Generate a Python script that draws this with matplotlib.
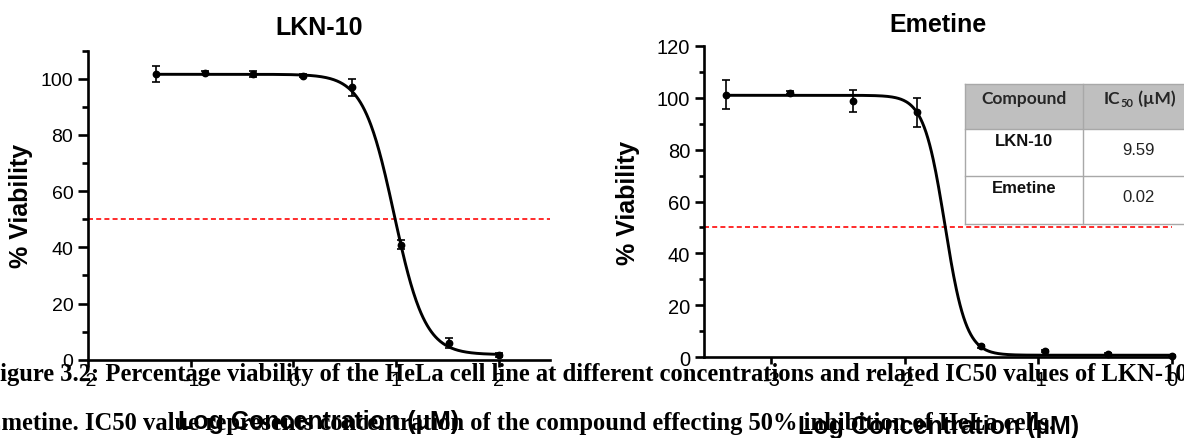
import numpy as np
import matplotlib
matplotlib.use("Agg")
import matplotlib.pyplot as plt
from matplotlib.patches import Rectangle
from matplotlib.ticker import MultipleLocator

plt.rcParams["font.family"] = ["Liberation Sans", "DejaVu Sans"]
plt.rcParams["axes.unicode_minus"] = False
plt.rcParams["lines.scale_dashes"] = False

# ---- dose-response data (log10 concentration in µM, % viability, SEM) ----
lkn_log_conc = [-1.34, -0.86, -0.39, 0.09, 0.57, 1.05, 1.52, 2.00]
lkn_viability = [101.7, 102.1, 101.6, 101.1, 96.9, 41.0, 5.9, 1.7]
lkn_sem = [2.7, 0.5, 1.0, 0.5, 3.2, 1.5, 1.8, 0.6]

emetine_log_conc = [-3.34, -2.86, -2.39, -1.91, -1.43, -0.95, -0.48, 0.00]
emetine_viability = [101.1, 101.9, 98.7, 94.3, 4.2, 2.5, 1.3, 0.6]
emetine_sem = [5.6, 0.6, 4.2, 5.5, 0.6, 0.5, 0.4, 0.4]

# ---- IC50 summary ----
compounds = ["LKN-10", "Emetine"]
ic50_uM = [9.59, 0.02]
ic50_labels = ["9.59", "0.02"]

# four-parameter logistic fit parameters (top, bottom, Hill slope)
lkn_fit = (101.6, 1.8, 2.9)
emetine_fit = (100.9, 0.8, 5.5)

x_ticks_lkn = [-2, -1, 0, 1, 2]
x_ticks_emetine = [-3, -2, -1, 0]

caption_line1 = ("Figure 3.2: Percentage viability of the HeLa cell line at different "
                 "concentrations and related IC50 values of LKN-10 and")
caption_line2 = ("Emetine. IC50 value represents concentration of the compound "
                 "effecting 50% inhibition of HeLa cells.")


def four_pl(x, top, bottom, hill, ic50):
    return bottom + (top - bottom) / (1.0 + 10.0 ** ((x - np.log10(ic50)) * hill))


W, H = 1184, 439
fig = plt.figure(figsize=(W / 100, H / 100), dpi=100)
fig.patch.set_facecolor("white")


def px_axes(left, top, right, bottom):
    return fig.add_axes([left / W, 1 - bottom / H, (right - left) / W, (bottom - top) / H])


def draw_panel(ax, title, logc, via, sem, fit, ic50, xlim, xticks, ymax,
               tick_size, ytick_len, ytick_pad, title_y, ylabel_x, xlabel_y):
    top, bottom, hill = fit
    xs = np.linspace(logc[0], logc[-1], 500)
    ax.plot(xs, four_pl(xs, top, bottom, hill, ic50), color="black", lw=2.1,
            clip_on=False, zorder=3)
    ax.errorbar(logc, via, yerr=sem, fmt="o", color="black", ms=4.6,
                elinewidth=1.2, capsize=2.6, capthick=1.2, clip_on=False, zorder=4)
    ax.axhline(50, color="#FF1A1A", lw=1.3, dashes=(3.6, 2.3), zorder=2)

    ax.set_xlim(*xlim)
    ax.set_ylim(0, ymax)
    ax.set_xticks(xticks)
    ax.yaxis.set_major_locator(MultipleLocator(20))
    ax.yaxis.set_minor_locator(MultipleLocator(10))

    for side in ("top", "right"):
        ax.spines[side].set_visible(False)
    for side in ("left", "bottom"):
        ax.spines[side].set_linewidth(1.9)

    ax.tick_params(axis="x", which="major", length=5.2, width=1.9,
                   labelsize=tick_size, pad=3.6)
    ax.tick_params(axis="y", which="major", length=ytick_len, width=1.9,
                   labelsize=tick_size, pad=ytick_pad)
    ax.tick_params(axis="y", which="minor", length=ytick_len * 0.58, width=1.9)

    ax.set_title(title, fontsize=18, fontweight="bold", y=title_y, pad=0)
    ax.set_ylabel("% Viability", fontsize=18, fontweight="bold")
    ax.yaxis.set_label_coords(ylabel_x, 0.5)
    ax.set_xlabel("Log Concentration (µM)", fontsize=18, fontweight="bold")
    ax.xaxis.set_label_coords(0.5, xlabel_y)


ax_l = px_axes(88.0, 51.7, 550.0, 360.7)
draw_panel(ax_l, "LKN-10", lkn_log_conc, lkn_viability, lkn_sem, lkn_fit,
           ic50_uM[0], (-2, 2.5), x_ticks_lkn, 110, 14, 7.0, 3.6,
           1.054, -0.118, -0.159)

ax_r = px_axes(704.3, 46.7, 1172.0, 358.3)
draw_panel(ax_r, "Emetine", emetine_log_conc, emetine_viability, emetine_sem,
           emetine_fit, ic50_uM[1], (-3.5, 0), x_ticks_emetine, 120, 14.5, 6.8, 3.4,
           1.047, -0.1375, -0.181)

# ---- IC50 table drawn in pixel coordinates ----
tab = fig.add_axes([0, 0, 1, 1], zorder=5)
tab.set_xlim(0, W)
tab.set_ylim(H, 0)
tab.axis("off")

col_x = [965, 1083, 1194]
row_y = [85, 130, 177, 225]
edge = "#A8A8A8"
tab.add_patch(Rectangle((col_x[0], row_y[0]), col_x[2] - col_x[0], row_y[-1] - row_y[0],
                        facecolor="white", edgecolor="none", clip_on=False))
tab.add_patch(Rectangle((col_x[0], row_y[0]), col_x[2] - col_x[0], row_y[1] - row_y[0],
                        facecolor="#BFBFBF", edgecolor="none", clip_on=False))
for y in row_y:
    tab.plot([col_x[0], col_x[2]], [y, y], color=edge, lw=1.0, clip_on=False)
for x in col_x:
    tab.plot([x, x], [row_y[0], row_y[-1]], color=edge, lw=1.0, clip_on=False)

head_font = dict(family=["Lato", "DejaVu Sans"], weight="bold", size=12.5, color="#262626")
c1 = (col_x[0] + col_x[1]) / 2
c2 = (col_x[1] + col_x[2]) / 2
tab.text(c1, row_y[0] + 19, "Compound", ha="center", va="baseline", **head_font)
t_ic = tab.text(1104, row_y[0] + 19, "IC", ha="left", va="baseline", **head_font)
sub = tab.annotate("50", xy=(1, 0), xycoords=t_ic, xytext=(0.3, -1.2),
                   textcoords="offset points", ha="left", va="bottom",
                   family=["Lato", "DejaVu Sans"], weight="bold", size=8,
                   color="#262626")
tab.annotate(" (µM)", xy=(1, 0), xycoords=(sub, t_ic), xytext=(0.3, 0),
             textcoords="offset points", ha="left", va="bottom", **head_font)

for i, (name, val) in enumerate(zip(compounds, ic50_labels)):
    ytop = row_y[i + 1]
    tab.text(c1, ytop + 16.5, name, ha="center", va="baseline",
             fontsize=12, fontweight="bold", color="#111111")
    tab.text(c2, ytop + 25, val, ha="center", va="baseline",
             fontsize=12, color="#222222")

# ---- figure caption lines ----
cap_font = dict(family=["Liberation Serif", "DejaVu Serif"], weight="bold", size=17.75)
fig.text(-15 / W, 1 - 380.7 / H, caption_line1, ha="left", va="baseline", **cap_font)
fig.text(-15 / W, 1 - 430.0 / H, caption_line2, ha="left", va="baseline", **cap_font)

fig.savefig("out.png", dpi=100, facecolor="white")
